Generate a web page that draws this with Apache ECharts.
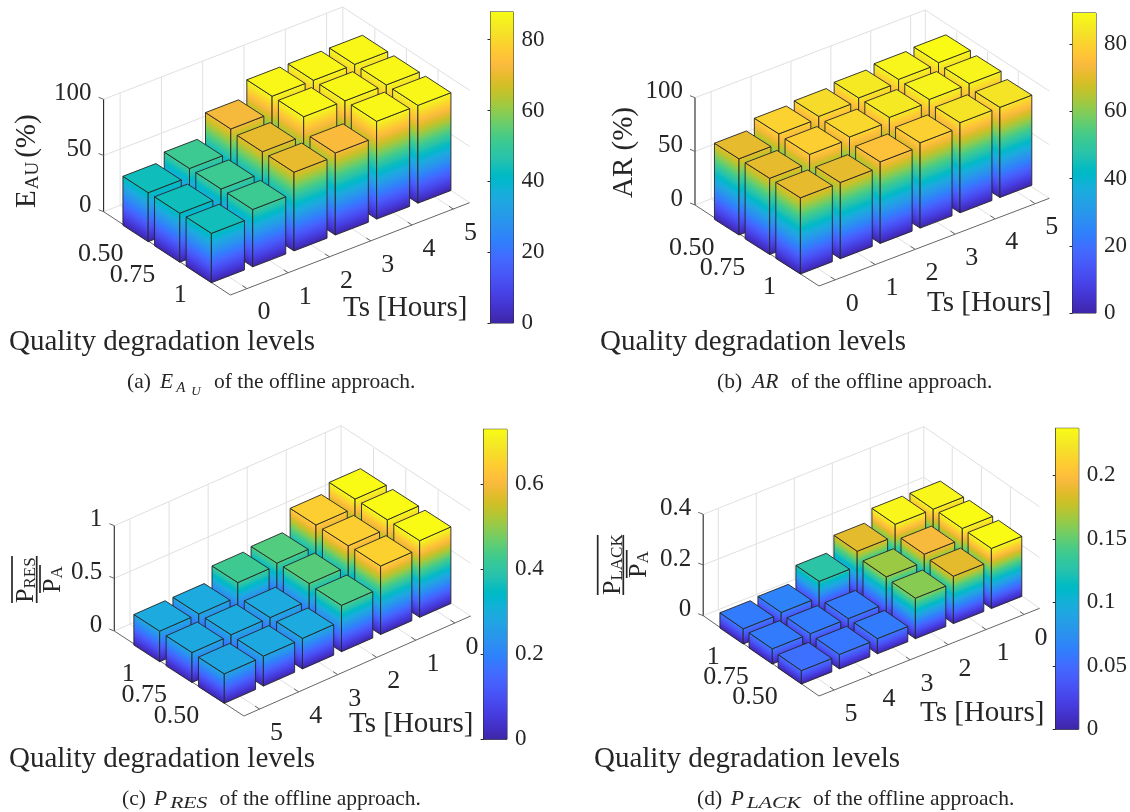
<!DOCTYPE html>
<html><head><meta charset="utf-8">
<script src="https://cdn.jsdelivr.net/npm/echarts@6/dist/echarts.min.js"></script>
<style>html,body{margin:0;padding:0;background:#fff}#c{width:1130px;height:812px}</style>
</head><body><div id="c"></div>
<script>
// ---- data (values by Ts = 0..5) ----
const tsLabels = ['0','1','2','3','4','5'];
const qLabels = ['0.50','0.75','1'];
const eauQ050 = [43.6,51,72,87,87,87];
const eauQ075 = [43.6,51,70,87,87,87];
const eauQ100 = [43.9,51,70,73,87,87];
const arQ050 = [71,80,82,85,88,89.3];
const arQ075 = [71,79,81,85,87.5,88];
const arQ100 = [71,71,76,79.5,84,84];
const resQ050 = [0.728,0.65,0.44,0.29,0.285,0.28];
const resQ075 = [0.728,0.645,0.45,0.29,0.29,0.285];
const resQ100 = [0.728,0.645,0.446,0.425,0.29,0.29];
const lackQ050 = [0.237,0.187,0.16,0.06,0.057,0.053];
const lackQ075 = [0.237,0.195,0.165,0.06,0.06,0.06];
const lackQ100 = [0.234,0.234,0.187,0.128,0.065,0.06];
const zTicksA = [0,50,100], zTicksC = [0,0.5,1], zTicksD = [0,0.2,0.4];

const parula = [[.2422,.1504,.6603],[.2504,.165,.7076],[.2578,.1818,.7511],[.2647,.1978,.7952],[.2706,.2147,.8364],[.2751,.2342,.871],[.2783,.2559,.8991],[.2803,.2782,.9221],[.2813,.3006,.9414],[.281,.3228,.9579],[.2795,.3447,.9717],[.276,.3667,.9829],[.2699,.3892,.9906],[.2602,.4123,.9952],[.244,.4358,.9988],[.2206,.4603,.9973],[.1963,.4847,.9892],[.1834,.5074,.9798],[.1786,.5289,.9682],[.1764,.5499,.952],[.1687,.5703,.9359],[.154,.5902,.9218],[.146,.6091,.9079],[.138,.6276,.8973],[.1248,.6459,.8883],[.1113,.6635,.8763],[.0952,.6798,.8598],[.0689,.6948,.8394],[.0297,.7082,.8163],[.0036,.7203,.7917],[.0067,.7312,.766],[.0433,.7411,.7394],[.0964,.75,.712],[.1408,.7584,.6842],[.1717,.767,.6554],[.1938,.7758,.6251],[.2161,.7843,.5923],[.247,.7918,.5567],[.2906,.7973,.5188],[.3406,.8008,.4789],[.3909,.8029,.4354],[.4456,.8024,.3909],[.5044,.7993,.348],[.5616,.7942,.3045],[.6174,.7876,.2612],[.672,.7793,.2227],[.7242,.7698,.191],[.7738,.7598,.1646],[.8203,.7498,.1535],[.8634,.7406,.1596],[.9035,.733,.1774],[.9393,.7288,.21],[.9728,.7298,.2394],[.9956,.7434,.2371],[.997,.7659,.2199],[.9952,.7893,.2028],[.9892,.8136,.1885],[.9786,.8386,.1766],[.9676,.8639,.1643],[.961,.889,.1537],[.9597,.9135,.1423],[.9628,.9373,.1265],[.9691,.9606,.1064],[.9769,.9839,.0805]];
function cmap(t){
  t=Math.max(0,Math.min(1,t))*(parula.length-1);
  const i=Math.min(parula.length-2,Math.floor(t)),f=t-i,a=parula[i],b=parula[i+1];
  const c=k=>Math.round(255*(a[k]+(b[k]-a[k])*f));
  return 'rgb('+c(0)+','+c(1)+','+c(2)+')';
}

// ---- panel geometry (projection of the 3-D box on the page) ----
const INK='#262626', FONT='"Liberation Serif"';
const panels=[
 {id:'a',L:[103.6,211.7],B:[230.4,295],R:[469.6,202.7],zPx:1.124,F:[211.4,282.7],Sts:[41.3,-15.9],Sq:[31.6,20.5],
  cmax:87.8,bar:[490.5,12,23,311],ticks:20,zTicks:zTicksA,zFmt:String,reversed:false,rows:[eauQ100,eauQ075,eauQ050]},
 {id:'b',L:[695,205],B:[819,286],R:[1049.3,198.3],zPx:1.073,F:[800.4,274],Sts:[39.9,-15.3],Sq:[30.7,19.5],
  cmax:89.3,bar:[1072.5,13,25,300],ticks:20,zTicks:zTicksA,zFmt:String,reversed:false,rows:[arQ100,arQ075,arQ050]},
 {id:'c',L:[114.3,631],B:[243.9,716],R:[470.7,616],zPx:105.3,F:[224.3,703.3],Sts:[39.07,-17.2],Sq:[32.3,20.8],
  cmax:0.728,bar:[483.6,429.3,23.4,310],ticks:0.2,zTicks:zTicksC,zFmt:String,reversed:true,rows:[resQ050,resQ075,resQ100]},
 {id:'d',L:[703.2,615.7],B:[819,696],R:[1039.6,608.3],zPx:253.5,F:[801.4,684],Sts:[38,-15.1],Sq:[29.1,20],
  cmax:0.237,bar:[1055.7,428.3,23.3,301],ticks:0.05,zTicks:zTicksD,zFmt:String,reversed:true,rows:[lackQ050,lackQ075,lackQ100]}
];
const WIDTH=0.8;
panels.forEach(p=>{
  p.C=[p.F[0]+WIDTH/2*p.Sts[0]-WIDTH/2*p.Sq[0], p.F[1]+WIDTH/2*p.Sts[1]-WIDTH/2*p.Sq[1]];
  p.floor=(c,r)=>[p.C[0]+c*p.Sts[0]-r*p.Sq[0], p.C[1]+c*p.Sts[1]-r*p.Sq[1]];
  const d=p.Sts[0]*p.Sq[1]-p.Sts[1]*p.Sq[0], dx=p.B[0]-p.C[0], dy=p.B[1]-p.C[1];
  p.bTs=(dx*p.Sq[1]-dy*p.Sq[0])/d; p.bQ=(p.Sts[0]*dy-p.Sts[1]*dx)/d;
  p.tsTick=c=>[p.B[0]+(c-p.bTs)*p.Sts[0],p.B[1]+(c-p.bTs)*p.Sts[1]];
  p.qTick=r=>[p.B[0]+(-r-p.bQ)*p.Sq[0],p.B[1]+(-r-p.bQ)*p.Sq[1]];
  p.K=[p.L[0]+p.R[0]-p.B[0],p.L[1]+p.R[1]-p.B[1]];
});

function barItem(p){
  return function(params,api){
    const c=api.value(0),r=api.value(1),v=api.value(2);
    const P=p.floor(c,r),h=v*p.zPx,a=[p.Sts[0]*WIDTH/2,p.Sts[1]*WIDTH/2],b=[p.Sq[0]*WIDTH/2,p.Sq[1]*WIDTH/2];
    const Fr=[P[0]+b[0]-a[0],P[1]+b[1]-a[1]],Rt=[P[0]+a[0]+b[0],P[1]+a[1]+b[1]],Lf=[P[0]-a[0]-b[0],P[1]-a[1]-b[1]],Bk=[P[0]+a[0]-b[0],P[1]+a[1]-b[1]];
    const up=q=>[q[0],q[1]-h];
    const C=q=>api.coord(q);
    const stops=[];for(let k=0;k<=24;k++)stops.push({offset:k/24,color:cmap(v/p.cmax*k/24)});
    function face(p1,p2){
      const e=[p2[0]-p1[0],p2[1]-p1[1]],n=[-e[1],e[0]],s=(-h*n[1])/(n[0]*n[0]+n[1]*n[1]);
      const A=C(p1),E=C([p1[0]+n[0]*s,p1[1]+n[1]*s]);
      return {type:'polygon',shape:{points:[C(p1),C(p2),C(up(p2)),C(up(p1))]},
        style:{fill:new echarts.graphic.LinearGradient(A[0],A[1],E[0],E[1],stops,true),stroke:INK,lineWidth:0.9,lineJoin:'round'}};
    }
    return {type:'group',children:[face(Lf,Fr),face(Fr,Rt),
      {type:'polygon',shape:{points:[C(up(Lf)),C(up(Fr)),C(up(Rt)),C(up(Bk))]},style:{fill:cmap(v/p.cmax),stroke:INK,lineWidth:0.9,lineJoin:'round'}}]};
  };
}
function frameItem(p){
  const tsL=p.reversed?tsLabels.slice().reverse():tsLabels;
  const qL=p.reversed?qLabels.slice():qLabels.slice().reverse(); // index 0 = front row
  return function(params,api){
    const C=q=>api.coord(q),ch=[];
    const line=(a,b,col,w)=>ch.push({type:'line',shape:{x1:C(a)[0],y1:C(a)[1],x2:C(b)[0],y2:C(b)[1]},style:{stroke:col,lineWidth:w}});
    const GR='#e0e0e0';
    const ztop=Math.max(...p.zTicks)*p.zPx;
    const add=(a,v)=>[a[0]+v[0],a[1]+v[1]];
    const toL=[p.L[0]-p.B[0],p.L[1]-p.B[1]],toR=[p.R[0]-p.B[0],p.R[1]-p.B[1]];
    p.zTicks.forEach(z=>{const dz=[0,-z*p.zPx];
      line(add(p.L,dz),add(p.K,dz),GR,1);line(add(p.K,dz),add(p.R,dz),GR,1);});
    for(let c=0;c<6;c++){const t=p.tsTick(c);
      const w0=add(t,toL);line(t,w0,GR,1);line(w0,[w0[0],w0[1]-ztop],GR,1);}
    for(let r=0;r<3;r++){const t=p.qTick(r);
      const w0=add(t,toR);line(t,w0,GR,1);line(w0,[w0[0],w0[1]-ztop],GR,1);}
    line(p.K,[p.K[0],p.K[1]-ztop],GR,1);
    line(p.L,[p.L[0],p.L[1]-ztop],INK,1.1);
    line(p.L,p.B,'#666',1);line(p.B,p.R,'#666',1);
    const txt=(x,y,s,align,sz)=>{const q=C([x,y]);ch.push({type:'text',x:q[0],y:q[1],style:{text:s,fontFamily:FONT,fontSize:sz,fill:INK,align:align,verticalAlign:'middle'}});};
    p.zTicks.forEach(z=>{const y=p.L[1]-z*p.zPx;
      line([p.L[0],y],[p.L[0]-5,y-2],'#666',1);
      txt(p.L[0]-12,y-6,p.zFmt(z),'right',25);});
    for(let c=0;c<6;c++){const t=p.tsTick(c);
      line(t,[t[0]+toL[0]*.035,t[1]+toL[1]*.035],'#666',1);
      txt(t[0]+17,t[1]+24,tsL[c],'center',26);}
    for(let r=0;r<3;r++){const t=p.qTick(r);
      line(t,[t[0]+toR[0]*.02,t[1]+toR[1]*.02],'#666',1);
      txt(t[0]-12,t[1]+21,qL[r],'right',26);}
    return {type:'group',children:ch};
  };
}
function cbItem(p){
  return function(params,api){
    const A=api.coord([0,0]),B=api.coord([1,p.cmax]),stops=[];
    for(let k=0;k<=63;k++)stops.push({offset:k/63,color:cmap(k/63)});
    return {type:'rect',shape:{x:A[0],y:B[1],width:B[0]-A[0],height:A[1]-B[1]},
      style:{fill:new echarts.graphic.LinearGradient(0,1,0,0,stops)}};
  };
}

// ---- option ----
const grids=[{left:0,top:0,width:1130,height:812}];
const xAxes=[{type:'value',gridIndex:0,min:0,max:1130,show:false}];
const yAxes=[{type:'value',gridIndex:0,min:0,max:812,inverse:true,show:false}];
const series=[];
panels.forEach((p,i)=>{
  const gi=i+1;
  grids.push({left:p.bar[0],top:p.bar[1],width:p.bar[2],height:p.bar[3],show:true,borderColor:INK,borderWidth:1,backgroundColor:'transparent'});
  xAxes.push({type:'value',gridIndex:gi,min:0,max:1,show:false});
  yAxes.push({type:'value',gridIndex:gi,min:0,max:p.cmax,interval:p.ticks,position:'right',
    axisLine:{show:true,lineStyle:{color:INK}},axisTick:{show:true,inside:true,length:3,lineStyle:{color:INK}},splitLine:{show:false},
    axisLabel:{fontFamily:FONT,fontSize:23,color:INK,margin:8,showMaxLabel:false,
      formatter:v=>String(p.ticks<1?+v.toFixed(2):v)}});
  series.push({type:'custom',xAxisIndex:gi,yAxisIndex:gi,data:[[0]],renderItem:cbItem(p),silent:true,z:3});
  series.push({type:'custom',xAxisIndex:0,yAxisIndex:0,data:[[0]],renderItem:frameItem(p),silent:true,z:1});
  const data=[];
  for(let r=2;r>=0;r--)for(let c=5;c>=0;c--){
    const ts=p.reversed?5-c:c; data.push([c,r,p.rows[r][ts]]);
  }
  series.push({type:'custom',xAxisIndex:0,yAxisIndex:0,data:data,renderItem:barItem(p),silent:true,z:2});
});

// ---- titles, subscripts ----
const graphic=[];
const mctx=document.createElement('canvas').getContext('2d');
function runs(x,y,parts,rot){
  rot=rot||0;const al=[Math.cos(rot),-Math.sin(rot)],dn=[Math.sin(rot),Math.cos(rot)];let adv=0;
  parts.forEach(o=>{
    mctx.font=(o.i?'italic ':'')+o.s+'px '+FONT;
    const d=(o.d||0)-0.27*o.s, sx=o.sx||1;
    graphic.push({type:'text',x:x+al[0]*adv+dn[0]*d,y:y+al[1]*adv+dn[1]*d,rotation:rot,scaleX:sx,silent:true,z:5,
      style:{text:o.t,fontFamily:FONT,fontSize:o.s,fontStyle:o.i?'italic':'normal',fill:INK,align:'left',verticalAlign:'middle'}});
    adv+=mctx.measureText(o.t).width*sx+(o.g||0);
  });
}
function rule(x1,y1,x2,y2){graphic.push({type:'line',shape:{x1,y1,x2,y2},style:{stroke:'#262626',lineWidth:1.7},silent:true,z:5});}
const T=29,Qs=29,Cap=21.5,ROT=Math.PI/2;
[[343,316.7,9,350],[927,311.7,600,350],[349,732.7,9,767],[920,721.7,594,767]].forEach(a=>{
  runs(a[0],a[1],[{t:'Ts [Hours]',s:T}]);
  runs(a[2],a[3],[{t:'Quality degradation levels',s:Qs}]);
});
// y titles
runs(35,208,[{t:'E',s:T,g:1},{t:'AU',s:19,d:3,g:4},{t:'(%)',s:T}],ROT);
runs(632.5,198,[{t:'AR (%)',s:T}],ROT);
rule(12,556,12,603);runs(33,603,[{t:'P',s:26},{t:'RES',s:17,d:2}],ROT);rule(36.7,556,36.7,603);rule(40,565,40,593);runs(60.6,593,[{t:'P',s:26},{t:'A',s:17,d:2}],ROT);
rule(597.7,535,597.7,595);runs(620,595,[{t:'P',s:26},{t:'LACK',s:17,d:2}],ROT);rule(623.3,535,623.3,595);rule(626.7,550,626.7,578);runs(646.5,578,[{t:'P',s:26},{t:'A',s:17,d:2}],ROT);
// captions
const OF='of the offline approach.';
runs(127,388,[{t:'(a)',s:Cap}]);runs(160,388,[{t:'E',s:Cap,i:1,g:3},{t:'A',s:15,i:1,d:4,g:6},{t:'U',s:13,i:1,d:7}]);runs(214,388,[{t:OF,s:Cap}]);
runs(717,388,[{t:'(b)',s:Cap}]);runs(752,388,[{t:'AR',s:Cap,i:1}]);runs(791,388,[{t:OF,s:Cap}]);
runs(122,805,[{t:'(c)',s:Cap}]);runs(154,805,[{t:'P',s:Cap,i:1,g:3},{t:'RES',s:16,i:1,d:3,sx:1.35}]);runs(219.6,805,[{t:OF,s:Cap}]);
runs(697,805,[{t:'(d)',s:Cap}]);runs(730.7,805,[{t:'P',s:Cap,i:1,g:3},{t:'LACK',s:16,i:1,d:3,sx:1.35}]);runs(812.9,805,[{t:OF,s:Cap}]);

const chart=echarts.init(document.getElementById('c'),null,{renderer:'canvas'});
chart.setOption({animation:false,backgroundColor:'#fff',grid:grids,xAxis:xAxes,yAxis:yAxes,series:series,graphic:graphic});
</script></body></html>
